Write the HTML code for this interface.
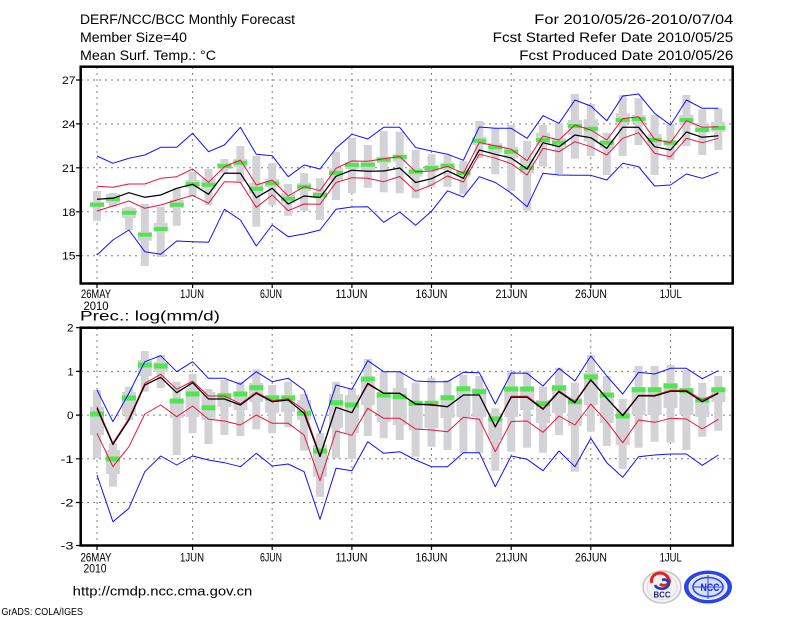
<!DOCTYPE html>
<html><head><meta charset="utf-8"><style>
html,body{margin:0;padding:0;background:#fff;}
svg{display:block;}
text{font-family:"Liberation Sans",sans-serif;fill:#000;}
</style></head><body>
<svg width="800" height="618" viewBox="0 0 800 618" xmlns="http://www.w3.org/2000/svg">
<rect width="800" height="618" fill="#fff"/>

<!-- Header -->
<g font-size="13.5">
<text x="80" y="24" textLength="215" lengthAdjust="spacingAndGlyphs">DERF/NCC/BCC Monthly Forecast</text>
<text x="80" y="42" textLength="107" lengthAdjust="spacingAndGlyphs">Member Size=40</text>
<text x="80" y="60" textLength="136" lengthAdjust="spacingAndGlyphs">Mean Surf. Temp.: °C</text>
<text x="534.3" y="24" textLength="199" lengthAdjust="spacingAndGlyphs">For 2010/05/26-2010/07/04</text>
<text x="492.7" y="42" textLength="240.6" lengthAdjust="spacingAndGlyphs">Fcst Started Refer Date 2010/05/25</text>
<text x="519.3" y="60" textLength="214" lengthAdjust="spacingAndGlyphs">Fcst Produced Date 2010/05/26</text>
<text x="80" y="320.5" textLength="140" lengthAdjust="spacingAndGlyphs">Prec.: log(mm/d)</text>
</g>

<!-- ===== TOP PANEL ===== -->
<g stroke="#808080" stroke-width="1" stroke-dasharray="2 4" fill="none">
<path d="M81,80H732M81,123.9H732M81,167.8H732M81,211.8H732M81,255.7H732"/>
<path d="M97,67V283M192.6,67V283M272.2,67V283M351.9,67V283M431.5,67V283M511.2,67V283M590.8,67V283M670.5,67V283"/>
</g>
<!-- whiskers -->
<path fill="#d3d3d7" d="M93,191h8V220.7h-8zM108.9,193h8V207h-8zM124.9,206.7h8V230h-8zM140.8,204h8V266h-8zM156.7,207h8V257h-8zM172.7,188.3h8V225.7h-8zM188.6,172h8V197h-8zM204.5,169h8V205h-8zM220.4,159h8V172.7h-8zM236.4,146h8V181.7h-8zM252.3,156h8V226.7h-8zM268.2,163.3h8V205h-8zM284.2,184h8V215.7h-8zM300.1,173.3h8V210.7h-8zM316,178.3h8V220h-8zM332,151.7h8V200h-8zM347.9,137.7h8V193.3h-8zM363.8,145h8V187.7h-8zM379.7,131h8V192.3h-8zM395.7,131.7h8V193.3h-8zM411.6,150h8V198.3h-8zM427.5,154.3h8V186.7h-8zM443.5,155h8V186.7h-8zM459.4,161h8V194.3h-8zM475.3,121h8V158.3h-8zM491.3,127.7h8V174.3h-8zM507.2,125h8V191h-8zM523.1,141h8V210.7h-8zM539,125h8V166.7h-8zM555,123.3h8V174h-8zM570.9,94h8V158.7h-8zM586.8,104h8V156h-8zM602.8,132.7h8V175h-8zM618.7,95h8V156h-8zM634.6,98.3h8V145h-8zM650.6,115h8V175h-8zM666.5,124h8V160h-8zM682.4,95h8V146h-8zM698.3,109.3h8V155h-8zM714.3,108.3h8V150h-8z"/>
<!-- boxes -->
<path fill="#d3d3d7" d="M90,201.7h14V207h-14zM105.9,194h14V203h-14zM121.9,208h14V218h-14zM137.8,231.7h14V240.7h-14zM153.7,222.7h14V231.7h-14zM169.7,200h14V208h-14zM185.6,180h14V188h-14zM201.5,179h14V189h-14zM217.4,163h14V169h-14zM233.4,159h14V167h-14zM249.3,183h14V194h-14zM265.2,179h14V187h-14zM281.2,193h14V203h-14zM297.1,183h14V191h-14zM313,191.7h14V198.3h-14zM329,168.3h14V180h-14zM344.9,161.7h14V169h-14zM360.8,161.7h14V170h-14zM376.7,156.7h14V163.3h-14zM392.7,155h14V161.7h-14zM408.6,168.3h14V176.7h-14zM424.5,165h14V171.7h-14zM440.5,163.3h14V169h-14zM456.4,170h14V176.7h-14zM472.3,136.7h14V145h-14zM488.3,143.3h14V153.3h-14zM504.2,146.7h14V158.3h-14zM520.1,158.3h14V173.3h-14zM536,132.7h14V145h-14zM552,138.3h14V146.7h-14zM567.9,120h14V135h-14zM583.8,119.3h14V141.7h-14zM599.8,140h14V148.3h-14zM615.7,113.3h14V123.3h-14zM631.6,115h14V123.3h-14zM647.6,134h14V146h-14zM663.5,140h14V145h-14zM679.4,115h14V125h-14zM695.3,123.3h14V131.7h-14zM711.3,121.7h14V131.7h-14z"/>
<!-- green -->
<path fill="#4fe64f" d="M90,202.7h14v4h-14zM105.9,197h14v4h-14zM121.9,210.7h14v4h-14zM137.8,232.7h14v4h-14zM153.7,227h14v4h-14zM169.7,202.7h14v4h-14zM185.6,182.3h14v4h-14zM201.5,182.7h14v4h-14zM217.4,164h14v4h-14zM233.4,160.7h14v4h-14zM249.3,186.7h14v4h-14zM265.2,181.3h14v4h-14zM281.2,196.7h14v4h-14zM297.1,184.7h14v4h-14zM313,193h14v4h-14zM329,171h14v4h-14zM344.9,163h14v4h-14zM360.8,162.8h14v4h-14zM376.7,157.6h14v4h-14zM392.7,154.7h14v4h-14zM408.6,169.7h14v4h-14zM424.5,166h14v4h-14zM440.5,163.7h14v4h-14zM456.4,171h14v4h-14zM472.3,138.7h14v4h-14zM488.3,145.3h14v4h-14zM504.2,149.7h14v4h-14zM520.1,166h14v4h-14zM536,138h14v4h-14zM552,140.7h14v4h-14zM567.9,124h14v4h-14zM583.8,126.7h14v4h-14zM599.8,140.7h14v4h-14zM615.7,118h14v4h-14zM631.6,117h14v4h-14zM647.6,138h14v4h-14zM663.5,140.7h14v4h-14zM679.4,118h14v4h-14zM695.3,128h14v4h-14zM711.3,126h14v4h-14z"/>
<g fill="none" stroke-linejoin="round">
<polyline stroke="#1010ff" stroke-width="1" points="97,156 112.9,163.3 128.9,158.3 144.8,155 160.7,147.3 176.7,147.3 192.6,133.3 208.5,151.7 224.4,145 240.4,127.3 256.3,154.3 272.2,155.7 288.2,176.7 304.1,165 320,169 336,148.3 351.9,134.2 367.8,139 383.7,127.3 399.7,127.3 415.6,147.5 431.5,151 447.5,154.2 463.4,160.3 479.3,127 495.3,128.3 511.2,128.3 527.1,138.3 543,115.7 559,123.3 574.9,100 590.8,106 606.8,120.7 622.7,96 638.6,94 654.6,113.3 670.5,125 686.4,100 702.3,108.3 718.3,108.3"/>
<polyline stroke="#1010ff" stroke-width="1" points="97,255 112.9,240 128.9,230 144.8,251.7 160.7,254.3 176.7,241 192.6,241.7 208.5,242.3 224.4,209.3 240.4,220 256.3,246 272.2,225 288.2,236.7 304.1,234 320,230 336,209.3 351.9,207 367.8,206.7 383.7,222.3 399.7,212 415.6,225.3 431.5,211.3 447.5,190.8 463.4,197 479.3,176.7 495.3,182.5 511.2,193 527.1,206.7 543,173.3 559,175 574.9,175.3 590.8,175.3 606.8,180 622.7,163.3 638.6,166.7 654.6,186 670.5,185 686.4,174 702.3,178.3 718.3,172.3"/>
<polyline stroke="#e8143c" stroke-width="1" points="97,186.3 112.9,187.3 128.9,184 144.8,184 160.7,178.3 176.7,176.7 192.6,169 208.5,182.3 224.4,166.7 240.4,160 256.3,185 272.2,180 288.2,196 304.1,186.7 320,190.7 336,168.3 351.9,161 367.8,161.3 383.7,158.8 399.7,156.5 415.6,171.7 431.5,171 447.5,166.3 463.4,173.3 479.3,142.5 495.3,145.8 511.2,149.2 527.1,160.7 543,136 559,140 574.9,125 590.8,130 606.8,140 622.7,118.7 638.6,116.7 654.6,139.3 670.5,142.7 686.4,120.7 702.3,127.3 718.3,126.7"/>
<polyline stroke="#e8143c" stroke-width="1" points="97,211 112.9,206 128.9,201 144.8,208.3 160.7,205 176.7,200 192.6,195.3 208.5,203.3 224.4,181.7 240.4,182.3 256.3,207.3 272.2,195 288.2,210.7 304.1,204 320,204.3 336,182.5 351.9,177.7 367.8,178.3 383.7,181.7 399.7,176.5 415.6,191.3 431.5,185 447.5,176 463.4,182 479.3,154.2 495.3,158.2 511.2,163.7 527.1,175 543,148.3 559,151.7 574.9,141.7 590.8,146.7 606.8,155 622.7,138.3 638.6,132.7 654.6,153.3 670.5,156.7 686.4,138.3 702.3,142.7 718.3,138.3"/>
<polyline stroke="#000" stroke-width="1.25" points="97,199.3 112.9,198.3 128.9,192.7 144.8,197.3 160.7,195 176.7,188.3 192.6,184.3 208.5,194.3 224.4,173.3 240.4,173.3 256.3,197.7 272.2,188.3 288.2,204 304.1,196 320,197.5 336,176.3 351.9,170.2 367.8,171.3 383.7,171 399.7,168 415.6,182.5 431.5,178.7 447.5,170.8 463.4,178.3 479.3,150 495.3,154.3 511.2,158 527.1,169 543,142.7 559,146.7 574.9,135 590.8,137.7 606.8,148.3 622.7,127.3 638.6,127.3 654.6,146.7 670.5,150 686.4,132 702.3,137.3 718.3,135.7"/>
</g>
<!-- frame & ticks -->
<rect x="80.7" y="66.7" width="652" height="216.8" fill="none" stroke="#000" stroke-width="2.5"/>
<path stroke="#000" stroke-width="1.2" d="M76,80H80M76,123.9H80M76,167.8H80M76,211.8H80M76,255.7H80M97,283.5V288M192.6,283.5V288M272.2,283.5V288M351.9,283.5V288M431.5,283.5V288M511.2,283.5V288M590.8,283.5V288M670.5,283.5V288"/>
<g font-size="11" text-anchor="end">
<text x="75.5" y="84" textLength="13.5" lengthAdjust="spacingAndGlyphs">27</text>
<text x="75.5" y="127.9" textLength="13.5" lengthAdjust="spacingAndGlyphs">24</text>
<text x="75.5" y="171.8" textLength="13.5" lengthAdjust="spacingAndGlyphs">21</text>
<text x="75.5" y="215.8" textLength="13.5" lengthAdjust="spacingAndGlyphs">18</text>
<text x="75.5" y="259.7" textLength="13.5" lengthAdjust="spacingAndGlyphs">15</text>
</g>
<g font-size="11.5" text-anchor="middle">
<text x="96" y="298" textLength="30" lengthAdjust="spacingAndGlyphs">26MAY</text>
<text x="96" y="310" textLength="25" lengthAdjust="spacingAndGlyphs">2010</text>
<text x="192" y="298" textLength="24" lengthAdjust="spacingAndGlyphs">1JUN</text>
<text x="271" y="298" textLength="22" lengthAdjust="spacingAndGlyphs">6JUN</text>
<text x="351.5" y="298" textLength="32" lengthAdjust="spacingAndGlyphs">11JUN</text>
<text x="431.5" y="298" textLength="32" lengthAdjust="spacingAndGlyphs">16JUN</text>
<text x="511.5" y="298" textLength="32" lengthAdjust="spacingAndGlyphs">21JUN</text>
<text x="591" y="298" textLength="32" lengthAdjust="spacingAndGlyphs">26JUN</text>
<text x="670.7" y="298" textLength="22" lengthAdjust="spacingAndGlyphs">1JUL</text>
</g>

<!-- ===== BOTTOM PANEL ===== -->
<g stroke="#808080" stroke-width="1" stroke-dasharray="2 4" fill="none">
<path d="M81,371.4H732M81,415.1H732M81,458.8H732M81,502.5H732"/>
<path d="M97,328V545M192.6,328V545M272.2,328V545M351.9,328V545M431.5,328V545M511.2,328V545M590.8,328V545M670.5,328V545"/>
</g>
<path fill="#d3d3d7" d="M93,390h8V458.3h-8zM108.9,443.3h8V486.7h-8zM124.9,386.7h8V420h-8zM140.8,351h8V391.7h-8zM156.7,355h8V388h-8zM172.7,381.7h8V455h-8zM188.6,374h8V433.3h-8zM204.5,389h8V444h-8zM220.4,380h8V435h-8zM236.4,381.7h8V436h-8zM252.3,369.3h8V429.3h-8zM268.2,385h8V433.3h-8zM284.2,381.7h8V427.3h-8zM300.1,394h8V450.7h-8zM316,433.3h8V496.7h-8zM332,381.7h8V458.3h-8zM347.9,388.3h8V459.3h-8zM363.8,359h8V436h-8zM379.7,371.7h8V438.3h-8zM395.7,371.7h8V440h-8zM411.6,382.7h8V456.7h-8zM427.5,377.7h8V446.7h-8zM443.5,380h8V450h-8zM459.4,375h8V453.3h-8zM475.3,376h8V453.3h-8zM491.3,408.3h8V470.7h-8zM507.2,371.7h8V451.7h-8zM523.1,371h8V447.7h-8zM539,386.7h8V452.7h-8zM555,367.7h8V435h-8zM570.9,382.7h8V471.7h-8zM586.8,355h8V431.7h-8zM602.8,376h8V446h-8zM618.7,399h8V469h-8zM634.6,366h8V447.7h-8zM650.6,366h8V441.7h-8zM666.5,365h8V442.7h-8zM682.4,370h8V450h-8zM698.3,382.7h8V436.7h-8zM714.3,376h8V430.7h-8z"/>
<path fill="#d3d3d7" d="M90,407h14V435h-14zM105.9,450h14V474h-14zM121.9,392h14V415h-14zM137.8,360h14V376h-14zM153.7,362h14V372h-14zM169.7,400h14V418h-14zM185.6,388h14V417h-14zM201.5,392h14V420h-14zM217.4,395h14V407h-14zM233.4,392h14V410h-14zM249.3,383h14V402h-14zM265.2,395h14V413h-14zM281.2,395h14V412h-14zM297.1,400h14V420h-14zM313,445h14V476.7h-14zM329,394h14V428h-14zM344.9,395h14V433h-14zM360.8,378h14V405h-14zM376.7,392h14V422h-14zM392.7,388h14V425h-14zM408.6,402h14V430h-14zM424.5,402h14V428h-14zM440.5,397h14V418h-14zM456.4,387h14V417h-14zM472.3,388h14V417h-14zM488.3,413h14V440h-14zM504.2,387h14V417h-14zM520.1,388h14V410h-14zM536,400h14V423h-14zM552,385h14V413h-14zM567.9,398h14V426h-14zM583.8,373h14V405h-14zM599.8,393h14V423h-14zM615.7,409h14V445h-14zM631.6,387h14V415h-14zM647.6,388h14V415h-14zM663.5,383h14V408h-14zM679.4,388h14V415h-14zM695.3,398h14V417h-14zM711.3,388h14V402h-14z"/>
<path fill="#4fe64f" d="M90,411.5h14v5h-14zM105.9,456.5h14v5h-14zM121.9,395.5h14v5h-14zM137.8,362.5h14v5h-14zM153.7,363.5h14v5h-14zM169.7,398.5h14v5h-14zM185.6,391.5h14v5h-14zM201.5,405.2h14v5h-14zM217.4,393.2h14v5h-14zM233.4,391.5h14v5h-14zM249.3,385.2h14v5h-14zM265.2,395.5h14v5h-14zM281.2,395.5h14v5h-14zM297.1,410.8h14v5h-14zM313,448.5h14v5h-14zM329,400.2h14v5h-14zM344.9,402.5h14v5h-14zM360.8,376.5h14v5h-14zM376.7,392.5h14v5h-14zM392.7,394.2h14v5h-14zM408.6,400.8h14v5h-14zM424.5,400.8h14v5h-14zM440.5,395.2h14v5h-14zM456.4,386.2h14v5h-14zM472.3,389.2h14v5h-14zM488.3,416.5h14v5h-14zM504.2,386.5h14v5h-14zM520.1,386.5h14v5h-14zM536,401.2h14v5h-14zM552,385.5h14v5h-14zM567.9,399.2h14v5h-14zM583.8,374.5h14v5h-14zM599.8,392.5h14v5h-14zM615.7,413.5h14v5h-14zM631.6,387.2h14v5h-14zM647.6,387.2h14v5h-14zM663.5,383.5h14v5h-14zM679.4,388.2h14v5h-14zM695.3,397.5h14v5h-14zM711.3,387.2h14v5h-14z"/>
<g fill="none" stroke-linejoin="round">
<polyline stroke="#1010ff" stroke-width="1" points="97,390 112.9,421.7 128.9,393.3 144.8,361.7 160.7,355.7 176.7,371.7 192.6,361.7 208.5,378.3 224.4,378.3 240.4,384.3 256.3,371.7 272.2,381.7 288.2,378.3 304.1,390 320,433.3 336,385 351.9,389.3 367.8,360.7 383.7,371.7 399.7,371.7 415.6,381 431.5,381.7 447.5,381.7 463.4,372.3 479.3,372.7 495.3,404 511.2,373 527.1,373.3 543,386 559,368.3 574.9,381 590.8,356 606.8,376 622.7,394 638.6,372.3 654.6,374 670.5,368.3 686.4,368.3 702.3,378.7 718.3,370.7"/>
<polyline stroke="#1010ff" stroke-width="1" points="97,475 112.9,521.7 128.9,508.3 144.8,471.7 160.7,456 176.7,465 192.6,456 208.5,460 224.4,462.7 240.4,466.7 256.3,453.3 272.2,466 288.2,464 304.1,471.7 320,519.3 336,468.3 351.9,470.7 367.8,441.7 383.7,453.3 399.7,451.7 415.6,460 431.5,466.7 447.5,466.7 463.4,452.7 479.3,452.7 495.3,486.7 511.2,456 527.1,459.3 543,470.7 559,451 574.9,466.7 590.8,438.3 606.8,462.7 622.7,477.3 638.6,456.7 654.6,455 670.5,454 686.4,454 702.3,465.3 718.3,455"/>
<polyline stroke="#e8143c" stroke-width="1" points="97,406.7 112.9,443 128.9,418.5 144.8,383.3 160.7,374.3 176.7,389.3 192.6,381.2 208.5,396 224.4,396 240.4,403.8 256.3,392.2 272.2,400.7 288.2,398.8 304.1,410 320,455 336,407.3 351.9,412.7 367.8,384.5 383.7,393.3 399.7,393.3 415.6,404.3 431.5,404.3 447.5,406.7 463.4,395 479.3,395 495.3,427.3 511.2,396.2 527.1,396.2 543,408.3 559,390.7 574.9,401.5 590.8,379.3 606.8,398.3 622.7,415 638.6,395.2 654.6,395.2 670.5,390.2 686.4,390.2 702.3,400 718.3,392.5"/>
<polyline stroke="#e8143c" stroke-width="1" points="97,433.3 112.9,466.7 128.9,446.7 144.8,414 160.7,405 176.7,416.7 192.6,406 208.5,419.3 224.4,421 240.4,425 256.3,415 272.2,423.3 288.2,423.3 304.1,435 320,480.7 336,431 351.9,435.3 367.8,408.3 383.7,418.3 399.7,418.3 415.6,429 431.5,430 447.5,431.7 463.4,417.3 479.3,419.3 495.3,451.7 511.2,421.5 527.1,421 543,432.3 559,416 574.9,425 590.8,404 606.8,421.7 622.7,442.7 638.6,420 654.6,422.3 670.5,418.3 686.4,419 702.3,429 718.3,419.3"/>
<polyline stroke="#000" stroke-width="1.25" points="97,408.3 112.9,444.5 128.9,420 144.8,385 160.7,377.3 176.7,392.7 192.6,382.7 208.5,399 224.4,399 240.4,405 256.3,393.3 272.2,401.7 288.2,400 304.1,413.3 320,456.7 336,407.3 351.9,412.7 367.8,383.3 383.7,393.3 399.7,393.3 415.6,404 431.5,405 447.5,406.7 463.4,395 479.3,395 495.3,426.7 511.2,397.3 527.1,397.3 543,409.3 559,391.7 574.9,402.7 590.8,380 606.8,398.3 622.7,415.7 638.6,395.7 654.6,396 670.5,391.3 686.4,391.3 702.3,401.7 718.3,393.3"/>
</g>
<rect x="80.7" y="327.7" width="652" height="217.8" fill="none" stroke="#000" stroke-width="2.5"/>
<path stroke="#000" stroke-width="1.2" d="M76,327.7H80M76,371.4H80M76,415.1H80M76,458.8H80M76,502.5H80M76,545.5H80M97,545.5V550M192.6,545.5V550M272.2,545.5V550M351.9,545.5V550M431.5,545.5V550M511.2,545.5V550M590.8,545.5V550M670.5,545.5V550"/>
<g font-size="11" text-anchor="end">
<text x="73.5" y="331.7" textLength="6.5" lengthAdjust="spacingAndGlyphs">2</text>
<text x="73.5" y="375.4" textLength="6" lengthAdjust="spacingAndGlyphs">1</text>
<text x="73.5" y="419.1" textLength="6.5" lengthAdjust="spacingAndGlyphs">0</text>
<text x="73.5" y="462.8" textLength="13" lengthAdjust="spacingAndGlyphs">-1</text>
<text x="73.5" y="506.5" textLength="13" lengthAdjust="spacingAndGlyphs">-2</text>
<text x="73.5" y="549.5" textLength="13" lengthAdjust="spacingAndGlyphs">-3</text>
</g>
<g font-size="11.5" text-anchor="middle">
<text x="96" y="561.7" textLength="31" lengthAdjust="spacingAndGlyphs">26MAY</text>
<text x="95" y="572.5" textLength="23" lengthAdjust="spacingAndGlyphs">2010</text>
<text x="192" y="561.7" textLength="24" lengthAdjust="spacingAndGlyphs">1JUN</text>
<text x="271" y="561.7" textLength="22" lengthAdjust="spacingAndGlyphs">6JUN</text>
<text x="351.5" y="561.7" textLength="32" lengthAdjust="spacingAndGlyphs">11JUN</text>
<text x="431.5" y="561.7" textLength="32" lengthAdjust="spacingAndGlyphs">16JUN</text>
<text x="511.5" y="561.7" textLength="32" lengthAdjust="spacingAndGlyphs">21JUN</text>
<text x="591" y="561.7" textLength="32" lengthAdjust="spacingAndGlyphs">26JUN</text>
<text x="670.7" y="561.7" textLength="22" lengthAdjust="spacingAndGlyphs">1JUL</text>
</g>

<!-- footer -->
<text x="72.7" y="595.5" font-size="13" textLength="179.6" lengthAdjust="spacingAndGlyphs">http://cmdp.ncc.cma.gov.cn</text>
<text x="1.5" y="615" font-size="10.5" textLength="81.5" lengthAdjust="spacingAndGlyphs">GrADS: COLA/IGES</text>

<!-- BCC logo -->
<g>
<ellipse cx="662" cy="587" rx="19" ry="16" fill="#f3f3f5" stroke="#c4c4c8" stroke-width="1.5"/>
<ellipse cx="662" cy="587" rx="15" ry="12.5" fill="none" stroke="#dcdce0" stroke-width="1"/>
<path d="M652,583 A8,7 0 0 1 668,578 A5,4 0 0 1 660,584" fill="none" stroke="#e82020" stroke-width="3"/>
<path d="M655,585 A7,5 0 0 0 668,586 A5,4 0 0 0 662,580" fill="none" stroke="#1a3ad0" stroke-width="2.6"/>
<text x="662" y="597.5" font-size="8.5" font-weight="bold" text-anchor="middle" style="fill:#1a2470" textLength="17" lengthAdjust="spacingAndGlyphs">BCC</text>
</g>
<!-- NCC logo -->
<g>
<ellipse cx="708" cy="587" rx="24" ry="16.5" fill="#2a44e6"/>
<ellipse cx="708" cy="587" rx="19" ry="12.5" fill="#d8e0ff" stroke="#ffffff" stroke-width="1"/>
<ellipse cx="708" cy="587" rx="15" ry="9.5" fill="none" stroke="#2a44e6" stroke-width="1.5"/>
<path d="M693,587H723M708,575V599" stroke="#2a44e6" stroke-width="1"/>
<text x="710" y="591" font-size="11" font-weight="bold" text-anchor="middle" style="fill:#1a30d0" textLength="19" lengthAdjust="spacingAndGlyphs">NCC</text>
</g>
</svg>
</body></html>
